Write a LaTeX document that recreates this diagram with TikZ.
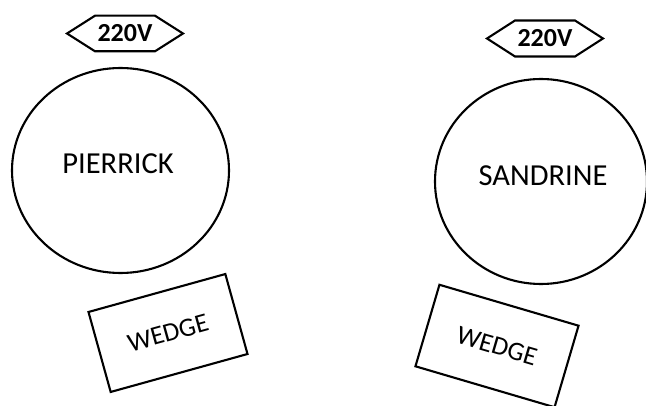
\documentclass[tikz,border=0pt]{standalone}
\usepackage{fontspec}
\setmainfont{Carlito}
\usetikzlibrary{shapes.geometric}
\begin{document}
\begin{tikzpicture}[x=1pt,y=-1pt,
  line width=2.1pt, line join=miter,
  person/.style={draw, ellipse, inner sep=0pt, minimum width=217pt, minimum height=205pt},
  nametext/.style={inner sep=0pt, font=\fontsize{30.5}{36}\selectfont},
  wedgebox/.style={draw, rectangle, inner sep=0pt, font=\fontsize{26.5}{32}\selectfont},
  volt/.style={inner sep=0pt, font=\bfseries\fontsize{26}{30}\selectfont},
  hexline/.style={draw, line width=2.1pt}]
\useasboundingbox (0,0) rectangle (646,406);

% left side
\node[volt] (v1) at (125,33.5) {220V};
\draw[hexline] (v1.center) ++(-58,0) coordinate (v1w) -- ++(28,-17.8) -- ++(60,0) -- ++(28,17.8) -- ++(-28,17.8) -- ++(-60,0) -- cycle;
\node[person] (p1) at (120.5,170.5) {};
\node[nametext] (n1) at (118,164) {PIERRICK};
\node[wedgebox, minimum width=142pt, minimum height=83pt, rotate=15.5] (w1) at (168,333) {WEDGE};

% right side
\node[volt] (v2) at (545,38.5) {220V};
\draw[hexline] (v2.center) ++(-58,0) coordinate (v2w) -- ++(28,-18) -- ++(60,0) -- ++(28,18) -- ++(-28,18) -- ++(-60,0) -- cycle;
\node[person, minimum width=212pt] (p2) at (541,181.5) {};
\node[nametext] (n2) at (543,176) {SANDRINE};
\node[wedgebox, minimum width=145pt, minimum height=85pt, rotate=-16.4] (w2) at (497,346) {WEDGE};
\end{tikzpicture}
\end{document}
